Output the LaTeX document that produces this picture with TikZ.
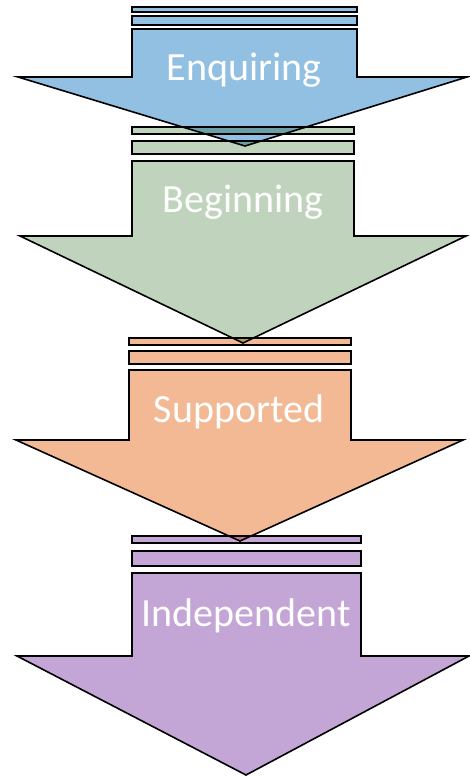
\documentclass[tikz,border=0pt]{standalone}
\usepackage{fontspec}
\setmainfont{Carlito}
\usepackage{tikz}

\definecolor{stepblue}{RGB}{146,192,226}
\definecolor{stepgreen}{RGB}{192,212,189}
\definecolor{steporange}{RGB}{242,185,148}
\definecolor{steppurple}{RGB}{195,166,214}

\begin{document}
\begin{tikzpicture}
[x=1pt,y=-1pt
,ar/.style={draw=black,line width=1.6pt,line join=miter}
,strip/.style={ar,blend mode=multiply}
,lbl/.style={text=white,font=\fontsize{40}{40}\selectfont,anchor=base,inner sep=0pt}
]
\useasboundingbox (0,0) rectangle (469,777);

% Enquiring
\filldraw[strip,fill=stepblue] (132,7) rectangle (357,12);
\filldraw[strip,fill=stepblue] (132,16) rectangle (357,25);
\filldraw[ar,fill=stepblue] (132,29) -- (357,29) -- (357,77) -- (467,77)
  -- (245,146) -- (18,77) -- (132,77) -- cycle;
\node[lbl] (enq) at (244,80) {Enquiring};

% Beginning
\filldraw[strip,fill=stepgreen] (132,127) rectangle (354,134);
\filldraw[strip,fill=stepgreen] (132,141) rectangle (354,154);
\filldraw[ar,fill=stepgreen] (132,161) -- (354,161) -- (354,236) -- (466,236)
  -- (243,343) -- (20,236) -- (132,236) -- cycle;
\node[lbl] (beg) at (243,212) {Beginning};

% Supported
\filldraw[strip,fill=steporange] (129,338) rectangle (351,345);
\filldraw[strip,fill=steporange] (129,351) rectangle (351,364);
\filldraw[ar,fill=steporange] (129,370) -- (351,370) -- (351,440) -- (463,440)
  -- (240,541) -- (16,440) -- (129,440) -- cycle;
\node[lbl] (sup) at (239,422) {Supported};

% Independent
\filldraw[strip,fill=steppurple] (132,536) rectangle (361,543);
\filldraw[strip,fill=steppurple] (132,551) rectangle (361,566);
\filldraw[ar,fill=steppurple] (132,573) -- (361,573) -- (361,656) -- (469,656)
  -- (246,775) -- (17,656) -- (132,656) -- cycle;
\node[lbl] (ind) at (246,626) {Independent};
\end{tikzpicture}
\end{document}
